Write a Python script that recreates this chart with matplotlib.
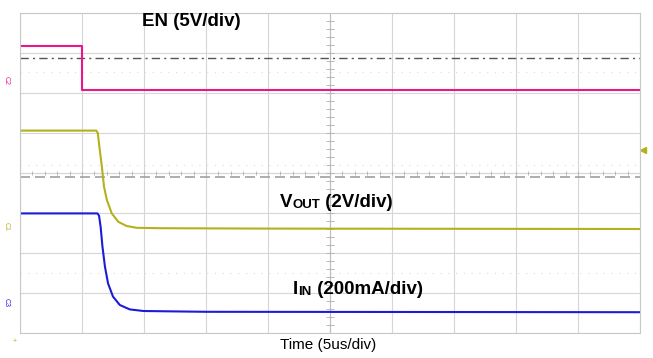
import numpy as np
import matplotlib.pyplot as plt

plt.rcParams['font.family'] = ['Liberation Sans', 'DejaVu Sans']

# scope traces, in divisions (x: 0..10 time divs, y: 0..8 from the bottom)
en_t = [0, 1.0, 1.0, 10]
en_v = [7.18, 7.18, 6.08, 6.08]

vout_t = [0, 1.23, 1.255, 1.28, 1.32, 1.355, 1.40, 1.48, 1.585, 1.72, 1.88, 2.26, 4.0, 10]
vout_v = [5.06, 5.06, 5.0, 4.66, 4.16, 3.66, 3.33, 2.99, 2.78, 2.675, 2.63, 2.62, 2.61, 2.60]

iin_t = [0, 1.25, 1.275, 1.30, 1.33, 1.37, 1.42, 1.50, 1.61, 1.77, 1.99, 3.0, 10]
iin_v = [2.99, 2.99, 2.93, 2.66, 2.16, 1.66, 1.24, 0.91, 0.70, 0.59, 0.55, 0.53, 0.52]

# channel reference / trigger levels
en_level = 6.875
vout_level = 3.9
faint_levels = [6.525, 4.2, 1.5]

pink = '#e8178a'
olive = '#b2b21e'
blue = '#1c1cd6'

fig = plt.figure(figsize=(6.53, 3.58), dpi=100)
ax = fig.add_axes([20/653, 25/358, 620/653, 320/358])
ax.set_xlim(0, 10)
ax.set_ylim(0, 8)
ax.set_xticks(range(11))
ax.set_yticks(range(9))
ax.tick_params(length=0, labelbottom=False, labelleft=False)
ax.grid(True, color='#d6d6d6', lw=0.8)
for s in ax.spines.values():
    s.set_color('#c8c8c8')
    s.set_linewidth(0.8)

# centre graticule with small ticks
ax.axvline(5, color='#bdbdbd', lw=0.8)
ax.axhline(4, color='#d6d6d6', lw=0.8)
minor = np.arange(0, 10.01, 0.2)
ax.vlines(minor, 3.95, 4.05, color='#b0b0b0', lw=0.6)
minor_y = np.arange(0, 8.01, 0.2)
ax.hlines(minor_y, 4.93, 5.07, color='#b0b0b0', lw=0.6)

for lv in faint_levels:
    ax.axhline(lv, color='#dcdcdc', lw=0.8, ls=(0, (1, 6)))
ax.axhline(en_level, color='#555555', lw=1.0, ls=(0, (6, 3, 1.5, 3)))
ax.axhline(vout_level, color='#a0a0a0', lw=1.2, ls=(0, (6, 3)))

ax.plot(en_t, en_v, color=pink, lw=1.5)
ax.plot(vout_t, vout_v, color=olive, lw=1.5, solid_joinstyle='round')
ax.plot(iin_t, iin_v, color=blue, lw=1.5, solid_joinstyle='round')

# channel tags on the left edge
fig.text(6/653, 1 - 80/358, 'C2', color=pink, fontsize=5, rotation=-90, ha='center', va='center')
fig.text(6/653, 1 - 226/358, 'C1', color=olive, fontsize=5, rotation=-90, ha='center', va='center')
fig.text(6/653, 1 - 302/358, 'C3', color=blue, fontsize=5, rotation=-90, ha='center', va='center')
ax.plot([10.05], [4.575], marker='<', color=olive, ms=4, clip_on=False)
fig.text(15/653, 1 - 342/358, '+', color=olive, fontsize=5, ha='center', va='center')

# labels
fig.text(142/653, 1 - 21/358, 'EN (5V/div)', fontsize=13.5, fontweight='bold', va='center')

t1 = fig.text(280/653, 1 - 211/358, 'V', fontsize=13.5, fontweight='bold', va='bottom')
t2 = ax.annotate('OUT', xy=(1, 0), xycoords=t1, fontsize=9.5, fontweight='bold', va='bottom')
ax.annotate(' (2V/div)', xy=(1, 0), xycoords=t2, fontsize=13.5, fontweight='bold', va='bottom')

t3 = fig.text(293/653, 1 - 298/358, 'I', fontsize=13.5, fontweight='bold', va='bottom')
t4 = ax.annotate('IN', xy=(1, 0), xycoords=t3, fontsize=9.5, fontweight='bold', va='bottom')
ax.annotate(' (200mA/div)', xy=(1, 0), xycoords=t4, fontsize=13.5, fontweight='bold', va='bottom')

fig.text(328/653, 1 - 345/358, 'Time (5us/div)', fontsize=11, ha='center', va='center')

fig.savefig('out.png', dpi=100)
